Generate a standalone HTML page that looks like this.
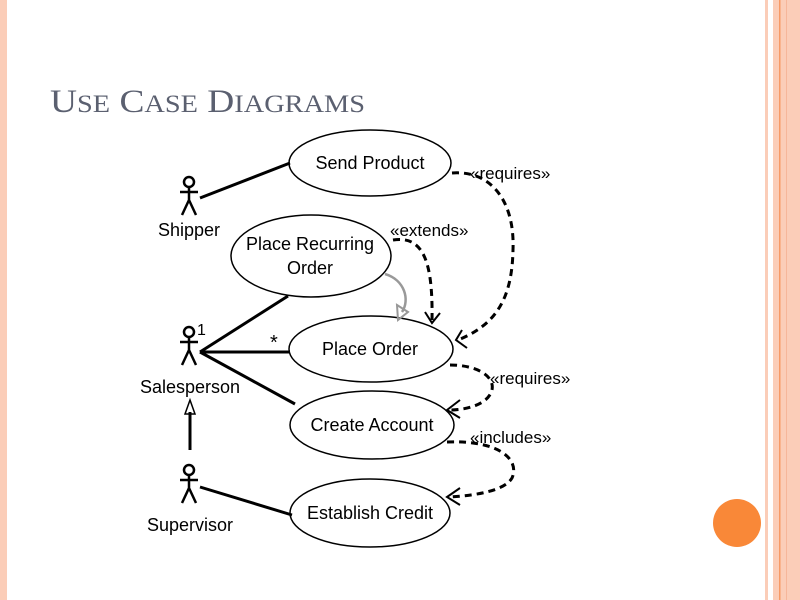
<!DOCTYPE html>
<html><head><style>
html,body{margin:0;padding:0;width:800px;height:600px;overflow:hidden;background:#fff}
</style></head><body>
<svg width="800" height="600" xmlns="http://www.w3.org/2000/svg" style="position:absolute;left:0;top:0">
<rect x="0" y="0" width="7" height="600" fill="#fbcdb8"/>
<rect x="765" y="0" width="3" height="600" fill="#fbcdb8"/>
<rect x="773" y="0" width="27" height="600" fill="#fbcdb8"/>
<rect x="779" y="0" width="1.5" height="600" fill="#f79a66"/>
<rect x="786" y="0" width="1" height="600" fill="#f6b69a"/>
<circle cx="737" cy="523" r="24" fill="#f98838"/>
<text x="50" y="112" font-family="Liberation Serif,serif" font-size="33" fill="#5b6070" textLength="315" lengthAdjust="spacingAndGlyphs">U<tspan font-size="25">SE</tspan> C<tspan font-size="25">ASE</tspan> D<tspan font-size="25">IAGRAMS</tspan></text>
<g fill="none" stroke="#000" stroke-width="1.5">
<ellipse cx="370" cy="163" rx="81" ry="33"/>
<ellipse cx="311" cy="256" rx="80" ry="41"/>
<ellipse cx="371" cy="349" rx="82" ry="33"/>
<ellipse cx="372" cy="425" rx="82" ry="34"/>
<ellipse cx="370" cy="513" rx="80" ry="34"/>
</g>
<g font-family="Liberation Sans,sans-serif" font-size="18" fill="#000" text-anchor="middle">
<text x="370" y="169">Send Product</text>
<text x="310" y="250">Place Recurring</text>
<text x="310" y="274">Order</text>
<text x="370" y="355">Place Order</text>
<text x="372" y="431">Create Account</text>
<text x="370" y="519">Establish Credit</text>
<text x="189" y="236">Shipper</text>
<text x="190" y="393">Salesperson</text>
<text x="190" y="531">Supervisor</text>
</g>
<g font-family="Liberation Sans,sans-serif" font-size="17" fill="#000">
<text x="470" y="179">«requires»</text>
<text x="390" y="236">«extends»</text>
<text x="490" y="384">«requires»</text>
<text x="470" y="443">«includes»</text>
<text x="197" y="335" font-size="16">1</text>
<text x="270" y="349" font-size="20">*</text>
</g>
<!-- actors -->
<g fill="none" stroke="#000" stroke-width="2.5">
<g transform="translate(189,0)">
<circle cx="0" cy="182" r="5"/><path d="M0 187V200M-9 192H9M0 200L-7 215M0 200L7 215"/>
</g>
<g transform="translate(189,150)">
<circle cx="0" cy="182" r="5"/><path d="M0 187V200M-9 192H9M0 200L-7 215M0 200L7 215"/>
</g>
<g transform="translate(189,288)">
<circle cx="0" cy="182" r="5"/><path d="M0 187V200M-9 192H9M0 200L-7 215M0 200L7 215"/>
</g>
</g>
<g fill="none" stroke="#000" stroke-width="3">
<path d="M200 198L290 163"/>
<path d="M200 352L288 296"/>
<path d="M200 352L290 352"/>
<path d="M200 352L295 404"/>
<path d="M200 487L292 515"/>
<path d="M190 450V412"/>
</g>
<path d="M190 400L185 414H195Z" fill="none" stroke="#000" stroke-width="1.5"/>
<!-- dashed -->
<g fill="none" stroke="#000" stroke-width="3" stroke-dasharray="7,5">
<path d="M452 173C490 170 515 200 513 250C512 300 495 325 458 340"/>
<path d="M393 240C425 235 433 265 432 322"/>
<path d="M450 365C475 365 495 375 492 390C488 405 465 410 450 410"/>
<path d="M447 442C500 440 520 460 512 478C505 490 480 495 450 497"/>
</g>
<g fill="none" stroke="#000" stroke-width="2">
<path d="M462 330L456 340L467 348"/>
<path d="M425 312L432 323L440 313"/>
<path d="M460 400L447 410L460 418"/>
<path d="M460 488L447 497L460 505"/>
</g>
<path d="M385 274C405 280 410 300 402 312" fill="none" stroke="#999" stroke-width="2.5"/>
<path d="M397 305L408 312L398 320Z" fill="none" stroke="#999" stroke-width="2"/>
</svg>
</body></html>
